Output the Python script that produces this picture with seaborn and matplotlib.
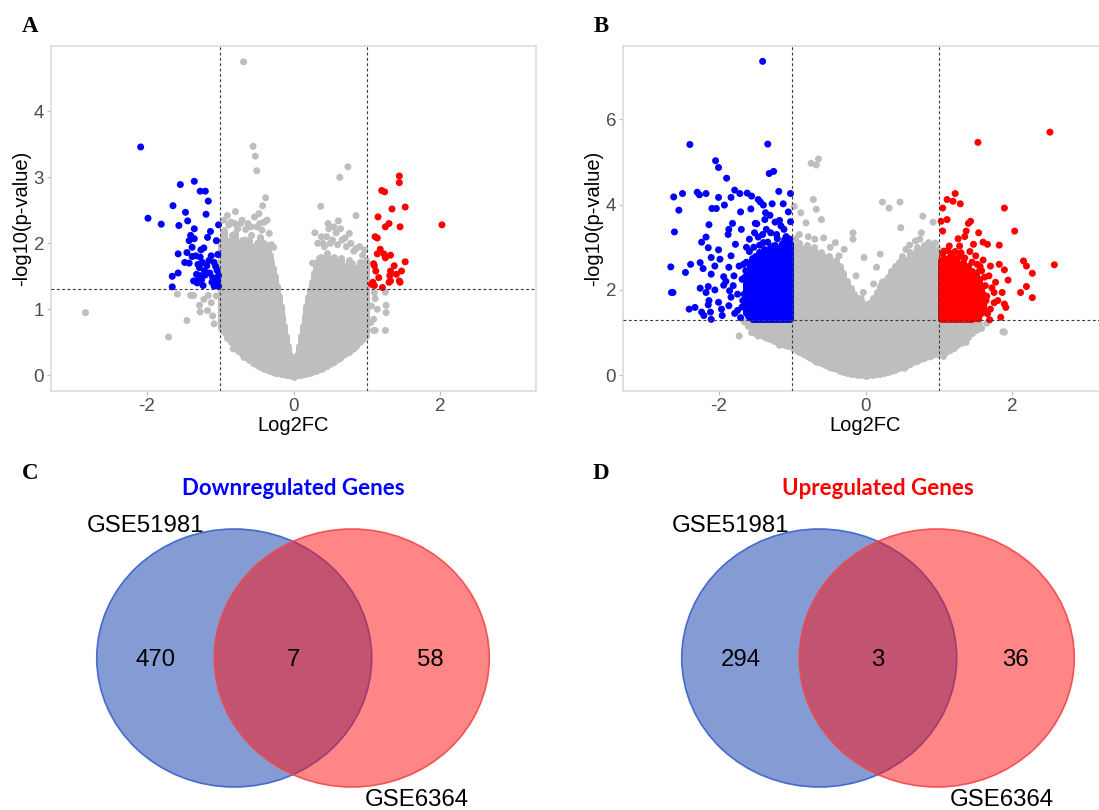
import numpy as np
import pandas as pd
import matplotlib.pyplot as plt
import seaborn as sns
from matplotlib.patches import Circle

#-------------------------------------------------
# A: GSE51981 volcano (log2FC, -log10 p)
a_down_x=[-2.08,-1.98,-1.80,-1.64,-1.54,-1.35,-1.27,-1.20,-1.16,-1.47,-1.19,-1.44,-1.56,-1.35,-1.13,-1.02,-1.40,-1.35,-1.17,-1.05,-1.42,-1.38,-1.22,-1.57,-1.45,-1.33,-1.27,-1.12,-1.03,-1.48,-1.42,-1.24,-1.18,-1.08,-1.28,-1.04,-1.14,-1.65,-1.57,-1.27,-1.20,-1.02,-1.36,-1.29,-1.23,-1.11,-1.05,-1.65,-1.08,-1.02,-1.31,-1.25,-1.21,-1.30,-1.15,-1.10,-1.03,-1.06,-1.26,-1.38,-1.32]
a_down_y=[3.46,2.38,2.29,2.57,2.89,2.94,2.79,2.79,2.64,2.47,2.44,2.34,2.27,2.22,2.18,2.28,2.12,2.07,2.09,2.04,2.04,1.94,1.93,1.84,1.86,1.81,1.79,1.81,1.83,1.71,1.70,1.71,1.66,1.71,1.63,1.59,1.55,1.50,1.55,1.51,1.52,1.51,1.43,1.46,1.36,1.41,1.36,1.34,1.35,1.35,1.40,1.45,1.58,1.68,1.74,1.48,1.43,1.65,1.90,1.80,1.53]
a_up_x=[1.44,1.44,1.20,1.24,1.52,1.34,1.15,1.30,1.25,1.45,2.02,1.11,1.14,1.18,1.23,1.14,1.32,1.25,1.09,1.10,1.52,1.37,1.32,1.40,1.47,1.16,1.31,1.32,1.44,1.45,1.08,1.10,1.21,1.30,1.06,1.12]
a_up_y=[3.02,2.92,2.80,2.78,2.55,2.52,2.40,2.30,2.25,2.25,2.28,2.10,2.08,1.91,1.84,1.84,1.82,1.78,1.69,1.66,1.72,1.66,1.58,1.53,1.58,1.48,1.51,1.43,1.43,1.41,1.41,1.36,1.33,1.41,1.38,1.58]
a_ns_x=[-0.68,-0.55,-0.52,-0.50,-0.38,-0.42,-0.36,-0.58,-0.79,-0.90,-0.95,-0.27,-0.65,-0.46,-0.72,-0.85,
        -0.95,-0.88,-0.83,-0.76,-0.70,-0.62,-0.57,-0.50,-0.47,-0.43,-0.40,-0.92,-0.66,-0.53,-0.80,-0.33,-0.30,
        0.37,0.29,0.45,0.48,0.58,0.61,0.63,0.74,0.70,0.85,0.85,0.94,0.53,0.40,
        0.33,0.38,0.42,0.50,0.55,0.60,0.66,0.72,0.78,0.82,0.90,0.97,0.47,0.64,0.76,0.26,
        -2.83,-1.70,-1.45,-1.58,-1.40,-1.36,-1.28,-1.27,-1.17,-1.16,-1.08,-1.12,-1.22,-1.10,-1.05,
        1.11,1.14,1.09,1.09,1.25,1.26,1.26,1.11,1.25,1.10,1.06,1.05,
        -0.67,-0.82,0.82,0.63]
a_ns_y=[4.75,3.47,3.32,3.10,2.69,2.57,2.35,2.25,2.48,2.42,2.35,1.94,2.21,2.30,2.30,2.32,
        2.15,2.28,2.12,2.22,2.35,2.30,2.12,2.25,2.45,2.20,2.32,2.05,2.05,2.40,2.30,2.15,1.98,
        2.56,2.16,2.10,2.22,2.16,2.34,3.00,3.16,2.08,2.42,1.92,1.82,2.05,2.00,
        2.00,2.10,1.95,2.00,2.25,1.98,2.05,1.95,2.00,1.88,1.95,1.90,2.30,2.22,2.15,1.70,
        0.95,0.58,0.83,1.23,1.21,1.21,1.06,0.96,0.98,1.21,0.78,1.10,1.15,0.90,1.20,
        1.16,1.00,0.85,0.68,1.26,1.06,0.95,0.68,0.68,1.25,1.05,0.80,
        0.27,0.40,0.40,0.25]
# dense grey cloud of A, read as column extents
a_ns_col=[-0.98,-0.95,-0.90,-0.85,-0.80,-0.75,-0.70,-0.65,-0.60,-0.55,-0.50,-0.45,-0.40,
          -0.375,-0.35,-0.325,-0.30,-0.275,-0.25,-0.225,-0.20,-0.175,-0.15,-0.125,-0.10,-0.075,-0.05,-0.025,0.0,
          0.025,0.05,0.075,0.10,0.125,0.15,0.175,0.20,0.225,0.25,0.275,0.30,0.325,0.35,0.375,
          0.40,0.45,0.50,0.55,0.60,0.65,0.70,0.75,0.80,0.85,0.90,0.95,0.98]
a_ns_lo=[0.72,0.65,0.57,0.50,0.43,0.37,0.32,0.27,0.23,0.19,0.16,0.13,0.10,
         0.09,0.08,0.07,0.06,0.05,0.04,0.035,0.03,0.025,0.02,0.015,0.01,0.005,0.0,-0.01,-0.02,
         -0.01,0.0,0.005,0.01,0.015,0.02,0.025,0.03,0.04,0.05,0.06,0.07,0.08,0.09,0.10,
         0.11,0.14,0.17,0.20,0.24,0.28,0.32,0.36,0.40,0.45,0.50,0.55,0.60]
a_ns_hi=[2.05,2.20,1.95,2.05,2.15,1.95,2.05,1.90,2.05,1.95,2.00,2.10,2.00,
         1.98,1.90,1.82,1.72,1.62,1.50,1.35,1.20,1.05,0.90,0.75,0.60,0.45,0.30,0.15,0.03,
         0.15,0.30,0.45,0.60,0.75,0.90,1.05,1.18,1.30,1.42,1.55,1.65,1.72,1.78,1.80,
         1.75,1.85,1.70,1.80,1.72,1.78,1.65,1.75,1.70,1.62,1.72,1.60,1.75]

# B: GSE6364 volcano
b_down_x=[-1.40,-2.39,-1.33,-2.04,-2.00,-1.31,-1.25,-1.89,-2.61,-2.49,-2.29,-2.26,-2.17,-2.00,-1.83,-1.78,-1.71,-1.61,-1.55,-1.46,-1.43,-1.39,-1.18,-1.02,-1.27,-1.12,
          -2.54,-2.09,-2.03,-1.92,-1.70,-1.56,-1.36,-1.05,-2.60,-2.13,-1.81,-1.86,-1.87,-1.69,-1.50,-1.37,-1.23,-1.17,-2.17,-2.23,-2.14,-2.00,-1.77,-1.58,-1.46,
          -2.10,-1.98,-1.83,-2.38,-2.25,-2.65,-2.45,-2.21,-2.05,-1.86,-1.72,-2.10,-1.93,-1.79,-2.25,-2.17,-2.64,-2.14,-2.05,-1.93,-1.85,-1.74,
          -2.32,-2.23,-2.13,-2.11,-2.14,-2.00,-2.10,-1.96,-1.83,-1.74,-1.86,-1.60,-1.67,-1.59,-1.63,-1.35,-1.29,-1.21,-1.11,-1.06,-1.51,-1.39,-1.13,-1.03,-1.25,
          -2.62,-1.90,-1.80,-1.68,-1.66,-1.95,-1.78,-1.70,-2.20,-2.40,-1.62,-1.48,-1.30,-1.15,-1.02,-1.08,-1.40,
          -1.62,-1.58,-1.52,-1.44,-1.33,-1.20,-1.10,-1.65,-1.68,-1.64]
b_down_y=[7.36,5.41,5.42,5.03,4.87,4.73,4.78,4.62,4.18,4.26,4.29,4.23,4.26,4.17,4.17,4.34,4.26,4.27,4.20,4.12,4.06,3.99,4.31,4.26,4.02,4.02,
          3.87,3.91,3.91,3.99,3.83,3.90,3.81,3.83,3.36,3.53,3.56,3.42,3.30,3.42,3.56,3.65,3.59,3.63,3.24,3.12,2.99,2.94,3.07,3.19,3.24,
          2.76,2.72,2.80,2.60,2.64,2.54,2.41,2.50,2.56,2.53,2.56,2.37,2.31,2.33,2.04,1.94,1.94,2.08,2.00,2.11,1.98,1.90,
          1.59,1.48,1.75,1.48,1.65,1.71,1.31,1.55,1.83,1.52,1.63,1.44,1.75,2.02,2.45,3.42,3.34,3.30,3.42,3.15,3.34,3.11,3.08,3.19,3.03,
          1.94,2.20,2.10,2.25,2.60,1.40,1.45,1.35,1.40,1.55,3.00,3.55,3.75,3.50,3.60,3.25,3.30,
          2.65,2.90,3.00,3.05,3.12,3.20,3.18,1.90,1.60,2.30]
b_up_x=[2.51,1.53,1.22,1.11,1.19,1.29,1.05,1.89,1.11,1.03,1.43,1.40,1.05,2.03,1.54,1.37,1.35,1.26,1.47,1.60,1.66,1.14,1.82,1.07,1.28,1.30,
        2.15,2.19,2.57,1.70,1.82,1.89,1.94,2.27,2.19,2.11,2.27,1.86,1.75,1.80,1.89,1.91,1.84,1.70,1.66,1.63,1.68,1.77,1.54,1.61,1.47,
        1.58,1.65,1.72,1.56,1.60,1.50,1.18,1.42,1.75,1.69,
        1.05,1.12,1.22,1.35,1.45,1.55,1.62,1.64,1.60,1.52,1.28]
b_up_y=[5.70,5.46,4.26,4.12,4.08,4.02,3.92,3.92,3.65,3.61,3.61,3.56,3.38,3.38,3.34,3.38,3.25,3.20,3.07,3.12,3.07,3.03,3.05,2.91,3.03,2.87,
        2.68,2.56,2.59,2.56,2.60,2.47,2.23,2.39,2.08,1.94,1.82,1.94,1.94,1.75,1.67,1.59,1.36,1.55,1.44,2.10,2.33,2.18,1.32,1.63,1.36,
        2.45,1.85,2.05,2.55,2.70,2.80,2.85,2.90,1.70,1.30,
        2.85,2.92,2.90,2.75,2.65,2.45,2.30,1.75,1.50,2.60,2.78]
b_ns_x=[-0.97,-0.71,-0.67,-0.60,-0.74,-0.64,-0.67,-0.88,-0.81,-0.69,-0.57,-0.17,-0.17,-0.29,-0.02,0.23,0.32,0.47,0.48,0.78,0.92,0.76,0.74,0.86,0.91,
        0.20,0.15,0.23,0.11,-0.03,-0.06,-0.13,-0.36,-0.41,-0.55,-0.90,-0.95,-0.78,-0.48,0.60,0.68,0.95,0.55,
        -1.72,-1.46,-1.17,-1.60,-1.39,1.89,1.87,1.37,1.53,1.26,1.65,1.58,-1.65,-1.55,-0.67,0.53,0.88]
b_ns_y=[3.96,4.12,3.89,3.65,4.97,5.07,4.93,3.81,3.57,3.19,3.22,3.34,3.19,2.95,2.76,4.06,3.92,4.06,3.46,3.73,3.59,3.34,3.19,3.11,2.99,
        2.84,2.53,2.18,2.14,1.94,1.79,2.33,2.80,3.11,2.76,3.30,3.20,3.25,3.00,3.05,3.15,3.10,2.95,
        0.92,0.92,0.70,1.20,1.01,1.01,1.02,0.77,1.16,0.90,1.22,1.10,1.25,1.00,0.31,0.16,0.43]
# dense clouds of B, read as column extents
b_ns_col=[-1.60,-1.55,-1.50,-1.45,-1.40,-1.35,-1.30,-1.25,-1.20,-1.15,-1.10,-1.05,
          -0.98,-0.95,-0.90,-0.85,-0.80,-0.75,-0.70,-0.65,-0.60,-0.55,-0.50,-0.45,-0.40,-0.35,-0.30,-0.25,-0.20,-0.15,-0.10,-0.05,
          0.00,0.05,0.10,0.15,0.20,0.25,0.30,0.35,0.40,0.45,0.50,0.55,0.60,0.65,0.70,0.75,0.80,0.85,0.90,0.95,0.98,
          1.05,1.10,1.15,1.20,1.25,1.30,1.35,1.40,1.45,1.50,1.55]
b_ns_lo=[1.15,1.05,1.00,0.95,0.92,0.88,0.85,0.80,0.78,0.74,0.72,0.68,
         0.65,0.60,0.55,0.50,0.45,0.40,0.36,0.32,0.28,0.24,0.20,0.17,0.14,0.11,0.08,0.06,0.04,0.02,0.01,0.00,
         -0.02,0.00,0.01,0.02,0.04,0.06,0.08,0.10,0.13,0.16,0.19,0.22,0.26,0.30,0.33,0.37,0.40,0.44,0.47,0.50,0.50,
         0.45,0.55,0.60,0.65,0.70,0.75,0.80,0.90,1.00,1.05,1.10]
b_ns_hi=[1.28,1.28,1.28,1.28,1.28,1.28,1.28,1.28,1.28,1.28,1.28,1.28,
         3.05,2.90,3.10,2.95,3.05,2.85,3.00,2.80,2.90,2.75,2.80,2.65,2.70,2.55,2.40,2.20,2.05,1.90,1.80,1.72,
         1.65,1.70,1.80,1.95,2.10,2.20,2.30,2.45,2.55,2.65,2.80,2.70,2.90,2.80,3.00,2.90,3.05,2.95,3.05,2.85,2.95,
         1.28,1.28,1.28,1.28,1.28,1.28,1.28,1.28,1.28,1.25,1.22]
b_down_col=[-1.625,-1.60,-1.575,-1.55,-1.525,-1.50,-1.475,-1.45,-1.425,-1.40,-1.375,-1.35,-1.325,-1.30,-1.275,-1.25,-1.225,-1.20,-1.175,-1.15,-1.125,-1.10,-1.075,-1.05,-1.025]
b_down_lo=[1.45,1.38,1.35,1.33,1.32,1.32,1.32,1.32,1.32,1.32,1.32,1.32,1.32,1.32,1.32,1.32,1.32,1.32,1.32,1.32,1.32,1.32,1.32,1.32,1.32]
b_down_hi=[2.20,2.45,2.60,2.75,2.55,2.80,2.70,2.90,2.75,2.85,2.95,2.80,2.90,3.00,2.85,2.95,3.05,2.90,2.95,3.00,2.85,3.05,2.95,3.00,3.10]
b_up_col=[1.025,1.05,1.075,1.10,1.125,1.15,1.175,1.20,1.225,1.25,1.275,1.30,1.325,1.35,1.375,1.40,1.425,1.45,1.475,1.50,1.525,1.55,1.575,1.60]
b_up_lo=[1.32,1.32,1.32,1.32,1.32,1.32,1.32,1.32,1.32,1.32,1.32,1.32,1.32,1.32,1.32,1.32,1.32,1.32,1.35,1.35,1.38,1.42,1.45,1.50]
b_up_hi=[2.70,2.55,2.75,2.60,2.70,2.80,2.55,2.65,2.75,2.50,2.60,2.45,2.65,2.50,2.40,2.55,2.35,2.45,2.30,2.40,2.15,2.25,2.05,1.90]

# C/D: Venn counts (GSE51981 only, shared, GSE6364 only)
l_set=['GSE51981', 'GSE6364']
down_cnt=[470, 7, 58]
up_cnt=[294, 3, 36]

#-------------------------------------------------
sns.set_theme(style='white')
plt.rcParams['font.family']=['Liberation Sans', 'DejaVu Sans']
plt.rcParams['axes.unicode_minus']=False

W, H=1099, 810
fig=plt.figure(figsize=(W/100, H/100), dpi=100)
c_ns, c_down, c_up='#BEBEBE', '#0000FF', '#FF0000'
pal={'NS':c_ns, 'Down':c_down, 'Up':c_up}
dot=7.0*72/100   # marker diameter (pt)

def px_rect(x0, y0, x1, y1):
	return [x0/W, 1-y1/H, (x1-x0)/W, (y1-y0)/H]

def plt_volcano(rect, pts, cols, ylim, yticks):
	ax=fig.add_axes(rect)
	for cx, lo, hi, c in cols:
		lc=ax.vlines(cx, lo, hi, colors=c, linewidth=dot, zorder=1)
		lc.set_capstyle('round')
	df=pd.concat([pd.DataFrame({'Log2FC':x, 'logp':y, 'grp':g}) for g, x, y in pts], ignore_index=True)
	sns.scatterplot(data=df, x='Log2FC', y='logp', hue='grp', palette=pal, s=dot**2,
		linewidth=0, legend=False, ax=ax, zorder=2)
	ls=(0, (2.6, 2.2))
	ax.axvline(-1, color='#3A3A3A', ls=ls, lw=0.8, zorder=5)
	ax.axvline(1, color='#3A3A3A', ls=ls, lw=0.8, zorder=5)
	ax.axhline(-np.log10(0.05), color='#3A3A3A', ls=ls, lw=0.8, zorder=5)
	ax.set_xlim(-3.3, 3.3)
	ax.set_ylim(*ylim)
	ax.set_xticks([-2, 0, 2])
	ax.set_yticks(yticks)
	for s in ax.spines.values():
		s.set_color('#D9D9D9')
		s.set_linewidth(1.1)
	ax.tick_params(bottom=True, left=True, length=3, width=0.8, color='#BBBBBB',
		labelsize=13.5, labelcolor='#4D4D4D', pad=2)
	ax.set_xlabel('Log2FC', fontsize=14.5, labelpad=1, color='black')
	ax.set_ylabel('-log10(p-value)', fontsize=14.5, labelpad=2, color='black')
	return ax

plt_volcano(px_rect(51, 46, 536, 391),
	[('NS', a_ns_x, a_ns_y), ('Down', a_down_x, a_down_y), ('Up', a_up_x, a_up_y)],
	[(a_ns_col, a_ns_lo, a_ns_hi, c_ns)],
	(-0.238, 4.99), [0, 1, 2, 3, 4])

plt_volcano(px_rect(623, 46, 1108, 391),
	[('NS', b_ns_x, b_ns_y), ('Down', b_down_x, b_down_y), ('Up', b_up_x, b_up_y)],
	[(b_ns_col, b_ns_lo, b_ns_hi, c_ns), (b_down_col, b_down_lo, b_down_hi, c_down), (b_up_col, b_up_lo, b_up_hi, c_up)],
	(-0.37, 7.72), [0, 2, 4, 6])

#-------------------------------------------------
def plt_venn(box, cx, cy, cnt, title, tcol, rx=137.5, ry=129, d=0.855):
	x0, y0, x1, y1=box
	ax=fig.add_axes(px_rect(*box))
	ax.set_xlim((x0-cx)/rx, (x1-cx)/rx)
	ax.set_ylim((cy-y1)/ry, (cy-y0)/ry)
	ax.axis('off')
	ax.add_patch(Circle((-d/2, 0), 1, fc=(0.204, 0.345, 0.718, 0.6), ec=(0.22, 0.38, 0.80, 0.9), lw=1.2))
	ax.add_patch(Circle((d/2, 0), 1, fc=(1.0, 0.055, 0.063, 0.5), ec=(0.95, 0.28, 0.28, 0.9), lw=1.2))
	for xp, n in zip([-1, 0, 1], cnt):
		ax.text(xp, 0, str(n), ha='center', va='center_baseline', fontsize=17.3, color='black')
	ax.text(-1.07, 1.04, l_set[0], ha='center', va='center_baseline', fontsize=17.3, color='black')
	ax.text(0.90, -1.085, l_set[1], ha='center', va='center_baseline', fontsize=17.3, color='black')
	ax.text(0, 1.333, title, ha='center', va='center_baseline', fontsize=16,
		color=tcol, weight='bold', family=['Lato', 'DejaVu Sans'])

plt_venn((0, 440, 549, 810), 293, 658, down_cnt, 'Downregulated Genes', c_down)
plt_venn((550, 440, 1099, 810), 878, 658, up_cnt, 'Upregulated Genes', c_up)

#-------------------------------------------------
for lab, x, y in [('A', 30, 27), ('B', 601, 27), ('C', 30, 474), ('D', 601, 474)]:
	fig.text(x/W, 1-y/H, lab, ha='center', va='center', fontsize=16.5, weight='bold',
		family=['Liberation Serif', 'DejaVu Serif'], color='black')

plt.savefig('out.png', dpi=100)
plt.close()
